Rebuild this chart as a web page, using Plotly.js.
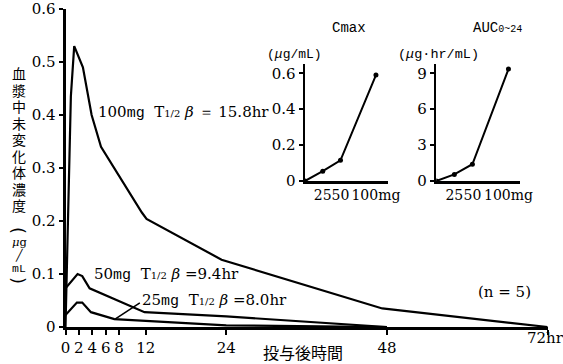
<!DOCTYPE html>
<html><head><meta charset="utf-8">
<script src="https://cdn.plot.ly/plotly-3.0.1.min.js"></script>
<style>body{margin:0;padding:0;background:#fff}#c{width:563px;height:364px}</style>
</head><body><div id="c"></div>
<script>
// Main chart data (hours after dosing, plasma concentration µg/mL)
var t100 = [0, 0.8, 1.3, 2.6, 3.9, 5.3, 11.4, 12.1, 23.3, 47.3, 72];
var c100 = [0, 0.435, 0.53, 0.49, 0.40, 0.34, 0.216, 0.204, 0.127, 0.035, 0];
var t50 = [0, 1.8, 2.5, 3.6, 11.8, 24, 48];
var c50 = [0.073, 0.1, 0.096, 0.073, 0.028, 0.02, 0];
var t25 = [0, 1.7, 2.5, 3.8, 7.3, 24, 48];
var c25 = [0.0225, 0.046, 0.046, 0.028, 0.015, 0.003, 0];
var xTickVals = [0, 2, 4, 6, 8, 12, 24, 48, 72];
var xTickText = ['0', '2', '4', '6', '8', '12', '24', '48', ''];
var xLastLabel = '72hr';
var yTickVals = [0, 0.1, 0.2, 0.3, 0.4, 0.5, 0.6];
var yTickText = ['0', '0.1', '0.2', '0.3', '0.4', '0.5', '0.6'];
// Inset data
var doses = [0, 25, 50, 100];
var cmax = [0, 0.055, 0.115, 0.59];
var auc = [0, 0.55, 1.4, 9.35];
var doseTickVals = [25, 50, 100];
var doseTickText = ['25', '50', '100mg'];
var cmaxTickVals = [0, 0.2, 0.4, 0.6];
var cmaxTickText = ['0', '0.2', '0.4', '0.6'];
var aucTickVals = [0, 3, 6, 9];
var aucTickText = ['0', '3', '6', '9'];
var yTitleChars = ['血','漿','中','未','変','化','体','濃','度'];

var W = 563, H = 364;
function px(x){return x/W;}
function py(y){return 1 - y/H;}
var SERIF = 'DejaVu Serif';
var CJK = 'DejaVu Sans, Noto Sans CJK JP';
var MONO = 'Liberation Mono';
var blk = '#000';

var ln = {color: blk, width: 2.2};
var traces = [
  {x: t100, y: c100, mode: 'lines', line: ln, xaxis: 'x', yaxis: 'y'},
  {x: t50, y: c50, mode: 'lines', line: ln, xaxis: 'x', yaxis: 'y'},
  {x: t25, y: c25, mode: 'lines', line: ln, xaxis: 'x', yaxis: 'y'},
  {x: doses, y: cmax, mode: 'lines+markers', line: {color: blk, width: 2}, marker: {color: blk, size: 5}, xaxis: 'x2', yaxis: 'y2'},
  {x: doses, y: auc, mode: 'lines+markers', line: {color: blk, width: 2}, marker: {color: blk, size: 5}, xaxis: 'x3', yaxis: 'y3'}
];

function ax(extra){
  var a = {showline: true, linecolor: blk, linewidth: 3, showgrid: false, zeroline: false,
    ticks: 'outside', ticklen: 4, tickwidth: 2, tickcolor: blk, tickangle: 0,
    tickfont: {family: SERIF, size: 15, color: blk}, fixedrange: true};
  for (var k in extra) a[k] = extra[k];
  return a;
}

var annotations = [];
function txt(x, y, text, opts){
  var a = {xref: 'paper', yref: 'paper', x: px(x), y: py(y), text: text, showarrow: false,
    xanchor: 'center', yanchor: 'middle', font: {family: SERIF, size: 15, color: blk}};
  for (var k in (opts||{})) a[k] = opts[k];
  annotations.push(a);
}
// Vertical y-axis title, one character per line
for (var i = 0; i < yTitleChars.length; i++) {
  txt(19, 74 + i*16.5, yTitleChars[i], {font: {family: CJK, size: 14, color: blk}});
}
txt(19, 230, '(', {textangle: 90, font: {family: 'DejaVu Sans', size: 18, color: blk}});
txt(19, 242, '<i>μ</i>g', {font: {family: SERIF, size: 11.5, color: blk}});
txt(19, 255, '╱', {font: {family: 'DejaVu Sans', size: 11, color: blk}});
txt(19, 268, 'mL', {font: {family: MONO, size: 11.5, color: blk}});
txt(19, 280, ')', {textangle: 90, font: {family: 'DejaVu Sans', size: 18, color: blk}});
// x-axis title
txt(303, 353, '投与後時間', {font: {family: CJK, size: 16, color: blk}});
// last x tick label
txt(545, 338, xLastLabel);
// Curve labels
var sm = '<span style="font-size:10px">1/2</span>';
var mg = '<span style="font-family:Liberation Mono">mg</span>';
txt(96, 112, '100' + mg + '  T' + sm + ' <i>β</i> ＝ 15.8hr', {xanchor: 'left'});
txt(92, 274, '50' + mg + '  T' + sm + ' <i>β</i> =9.4hr', {xanchor: 'left'});
txt(140, 300, '25' + mg + '  T' + sm + ' <i>β</i> =8.0hr', {xanchor: 'left'});
txt(505, 292, '(n = 5)', {font: {family: SERIF, size: 15, color: blk}});
// Inset titles
txt(349, 28, 'Cmax', {font: {family: MONO, size: 14, color: blk}});
txt(497, 28, 'AUC<span style="font-size:10px">0~24</span>', {font: {family: MONO, size: 14, color: blk}});
txt(294, 54, '(<i>μ</i>g/mL)', {font: {family: MONO, size: 13, color: blk}});
txt(438, 54, '(<i>μ</i>g·hr/mL)', {font: {family: MONO, size: 13.5, color: blk}});

var insetX = {tickfont: {family: SERIF, size: 14, color: blk}, ticks: '', linewidth: 2.5};
function merge(a, b){var o = {}; for (var k in a) o[k] = a[k]; for (var k2 in b) o[k2] = b[k2]; return o;}

var layout = {
  width: W, height: H, margin: {l: 0, r: 0, t: 0, b: 0},
  paper_bgcolor: '#fff', plot_bgcolor: 'rgba(0,0,0,0)', showlegend: false,
  xaxis: ax({domain: [px(65.5), px(547.7)], range: [0, 72], tickvals: xTickVals, ticktext: xTickText, ticklen: 5, anchor: 'y'}),
  yaxis: ax({domain: [py(327), py(9)], range: [0, 0.6], tickvals: yTickVals, ticktext: yTickText, anchor: 'x'}),
  xaxis2: ax(merge(insetX, {domain: [px(305), px(388)], range: [0, 117], tickvals: doseTickVals, ticktext: doseTickText, anchor: 'y2'})),
  yaxis2: ax({domain: [py(181), py(64.3)], range: [0, 0.65], tickvals: cmaxTickVals, ticktext: cmaxTickText, linewidth: 2.5, anchor: 'x2'}),
  xaxis3: ax(merge(insetX, {domain: [px(436.3), px(520)], range: [0, 116], tickvals: doseTickVals, ticktext: doseTickText, anchor: 'y3'})),
  yaxis3: ax({domain: [py(181), py(64.3)], range: [0, 9.75], tickvals: aucTickVals, ticktext: aucTickText, linewidth: 2.5, anchor: 'x3'}),
  shapes: [{type: 'line', xref: 'x', yref: 'y', x0: 7.4, y0: 0.015, x1: 11.1, y1: 0.0456, line: {color: blk, width: 1.6}}],
  annotations: annotations
};
Plotly.newPlot('c', traces, layout, {staticPlot: true, displayModeBar: false});
</script></body></html>
